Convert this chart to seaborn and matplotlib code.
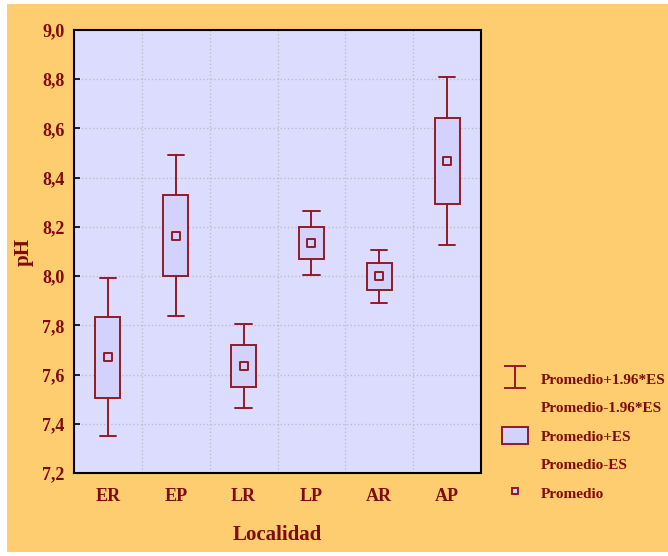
import numpy as np
import seaborn as sns
import matplotlib.pyplot as plt
from matplotlib.lines import Line2D
from matplotlib.patches import Patch, Rectangle
from matplotlib.path import Path
from matplotlib.ticker import FixedLocator, FuncFormatter

# datos
localidad = ["ER", "EP", "LR", "LP", "AR", "AP"]
promedio = [7.670, 8.165, 7.635, 8.135, 8.000, 8.468]
es = [0.164, 0.166, 0.087, 0.066, 0.055, 0.175]

rojo = "#921A28"
texto = "#7E0A0A"
naranja = "#FECD6F"
fondo = "#DCDCFE"
caja = "#D2D2FD"

sns.set_style("white")
plt.rcParams["font.family"] = ["Liberation Serif", "DejaVu Serif"]
plt.rcParams["font.weight"] = "bold"
plt.rcParams["axes.labelweight"] = "bold"

fig = plt.figure(figsize=(6.68, 5.56), dpi=100, facecolor="white")
fig.patches.append(Rectangle((7 / 668, 4 / 556), 1 - 7 / 668, 1 - 8 / 556,
                             transform=fig.transFigure, facecolor=naranja,
                             edgecolor="none", zorder=-10))
ax = fig.add_axes([74 / 668, 1 - 473 / 556, 407 / 668, 443 / 556])
ax.set_facecolor(fondo)

# cajas: promedio +- ES, bigotes: promedio +- 1.96*ES
stats = []
for nombre, m, e in zip(localidad, promedio, es):
    stats.append(dict(label=nombre, med=m, q1=m - e, q3=m + e,
                      whislo=m - 1.96 * e, whishi=m + 1.96 * e, fliers=[]))
ax.bxp(stats, positions=range(len(localidad)), widths=0.37, capwidths=0.24,
       patch_artist=True, showfliers=False,
       boxprops=dict(facecolor=caja, edgecolor=rojo, linewidth=1.4),
       whiskerprops=dict(color=rojo, linewidth=1.4),
       capprops=dict(color=rojo, linewidth=1.4),
       medianprops=dict(linewidth=0))

sns.scatterplot(x=localidad, y=promedio, marker="s", s=30, color=caja,
                edgecolor=rojo, linewidth=1.4, ax=ax, zorder=5)

ax.set_xlim(-0.5, 5.5)
ax.set_ylim(7.2, 9.0)
ax.yaxis.set_major_locator(FixedLocator(np.arange(7.2, 9.01, 0.2)))
ax.yaxis.set_major_formatter(FuncFormatter(lambda v, p: f"{v:.1f}".replace(".", ",")))
ax.set_xticks(range(len(localidad)))
ax.set_xticklabels(localidad)
ax.set_xticks(np.arange(0.5, 5.0, 1.0), minor=True)
ax.tick_params(axis="x", which="major", length=0, pad=11, labelsize=13, labelcolor=texto)
ax.tick_params(axis="x", which="minor", direction="in", length=4, width=1.2, color="black")
ax.tick_params(axis="y", direction="in", length=4, width=1.2, color="black",
               pad=7, labelsize=13, labelcolor=texto, left=True)
ax.grid(True, axis="y", which="major", color="#BEBEC8", linestyle=":", linewidth=1)
ax.grid(True, axis="x", which="minor", color="#BEBEC8", linestyle=":", linewidth=1)
ax.set_axisbelow(True)
for s in ax.spines.values():
    s.set_color("black")
    s.set_linewidth(1.5)

ax.set_xlabel("Localidad", fontsize=15, fontweight="bold", color=texto, labelpad=14)
ax.set_ylabel("pH", fontsize=15, fontweight="bold", color=texto, labelpad=6)

# leyenda
forma_i = Path([(-1, 1), (1, 1), (0, 1), (0, -1), (-1, -1), (1, -1)],
               [Path.MOVETO, Path.LINETO, Path.MOVETO, Path.LINETO, Path.MOVETO, Path.LINETO])
vacio = Line2D([], [], linestyle="none")
handles = [Line2D([], [], linestyle="none", marker=forma_i, markersize=16,
                  markeredgecolor=rojo, markerfacecolor="none", markeredgewidth=1.4),
           vacio,
           Patch(facecolor=caja, edgecolor=rojo, linewidth=1.4),
           vacio,
           Line2D([], [], linestyle="none", marker="s", markersize=5,
                  markerfacecolor=caja, markeredgecolor=rojo, markeredgewidth=1.4)]
labels = ["Promedio+1.96*ES", "Promedio-1.96*ES", "Promedio+ES", "Promedio-ES", "Promedio"]
leg = fig.legend(handles, labels, loc="upper left", bbox_to_anchor=(496 / 668, 1 - 364 / 556),
                 frameon=False, prop=dict(size=11, weight="bold"), labelcolor=texto,
                 handlelength=1.7, handleheight=1.3, handletextpad=0.8, labelspacing=0.78,
                 borderaxespad=0)

fig.savefig("out.png", dpi=100, facecolor=fig.get_facecolor())
